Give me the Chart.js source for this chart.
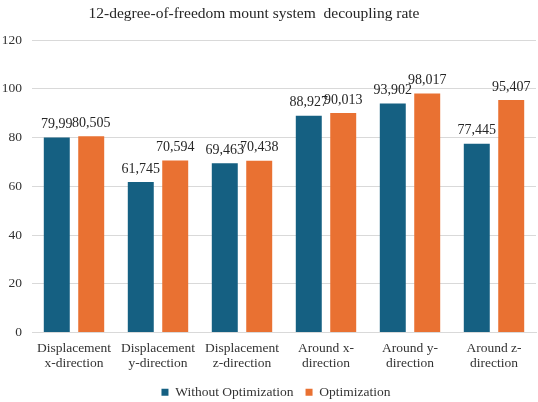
<!DOCTYPE html>
<html>
<head>
<meta charset="utf-8">
<script src="https://cdn.jsdelivr.net/npm/chart.js@4"></script>
<style>
  html, body { margin: 0; padding: 0; background: #fff; }
  #wrap { width: 538px; height: 402px; }
</style>
</head>
<body>
<div id="wrap"><canvas id="chart" width="538" height="402"></canvas></div>
<script>
const categories = [
  ["Displacement", "x-direction"],
  ["Displacement", "y-direction"],
  ["Displacement", "z-direction"],
  ["Around x-", "direction"],
  ["Around y-", "direction"],
  ["Around z-", "direction"]
]
const withoutOptimization = [79.99, 61.745, 69.463, 88.927, 93.902, 77.445]
const optimization        = [80.505, 70.594, 70.438, 90.013, 98.017, 95.407]
const yTicks = { min: 0, max: 120, step: 20 }
const chartTitle = "12-degree-of-freedom mount system  decoupling rate"

const SERIF = "'Liberation Serif', 'DejaVu Serif', serif"
const TEXT  = "#333333"

// title drawn by hand so it can sit a little left of centre like the original
const titlePlugin = {
  id: "titleText",
  afterDraw(chart) {
    const { ctx } = chart
    ctx.save()
    ctx.font = `15.5px ${SERIF}`
    ctx.fillStyle = "#262626"
    ctx.textAlign = "center"
    ctx.textBaseline = "middle"
    ctx.fillText(chartTitle, 254, 14)
    ctx.restore()
  }
}

// nudge the legend a bit right, the original isn't centred on the canvas
const legendShift = {
  id: "legendShift",
  afterLayout(chart) {
    if (!chart.legend) return
    chart.legend.left  += 8
    chart.legend.right += 8
  }
}

// value labels above bars, comma as decimal separator
const barLabels = {
  id: "barLabels",
  afterDatasetsDraw(chart) {
    const { ctx } = chart
    ctx.save()
    ctx.font = `14px ${SERIF}`
    ctx.fillStyle = "#262626"
    ctx.textAlign = "center"
    ctx.textBaseline = "bottom"
    chart.data.datasets.forEach((ds, i) => {
      chart.getDatasetMeta(i).data.forEach((bar, j) => {
        const txt = String(ds.data[j]).replace(".", ",")
        ctx.fillText(txt, bar.x, bar.y - 6)
      })
    })
    ctx.restore()
  }
}

new Chart(document.getElementById("chart"), {
  type: "bar",
  data: {
    labels: categories,
    datasets: [
      { label: "Without Optimization", data: withoutOptimization, backgroundColor: "#156082" },
      { label: "Optimization",         data: optimization,        backgroundColor: "#E97132" }
    ]
  },
  options: {
    responsive: false,
    animation: false,
    categoryPercentage: 0.82,
    barPercentage: 0.754,
    layout: { padding: { left: 0, right: 2, top: 40, bottom: -7 } },
    plugins: {
      title: { display: false },
      legend: {
        position: "bottom",
        labels: {
          font: { family: SERIF, size: 13.5 },
          color: TEXT,
          boxWidth: 7,
          boxHeight: 7,
          padding: 12
        }
      },
      tooltip: { enabled: false }
    },
    scales: {
      x: {
        afterFit(scale) { scale.height = 41 },
        grid: { display: false, drawTicks: false },
        border: { color: "#d9d9d9" },
        ticks: {
          padding: 9,
          font: { family: SERIF, size: 13.5, lineHeight: 1.1 },
          color: TEXT,
          maxRotation: 0,
          autoSkip: false
        }
      },
      y: {
        min: yTicks.min,
        max: yTicks.max,
        afterFit(scale) { scale.width = 32 },
        grid: { color: "#d9d9d9", drawTicks: false },
        border: { display: false },
        ticks: {
          stepSize: yTicks.step,
          padding: 10,
          font: { family: SERIF, size: 13.5 },
          color: TEXT
        }
      }
    }
  },
  plugins: [barLabels, titlePlugin, legendShift]
})
</script>
</body>
</html>
